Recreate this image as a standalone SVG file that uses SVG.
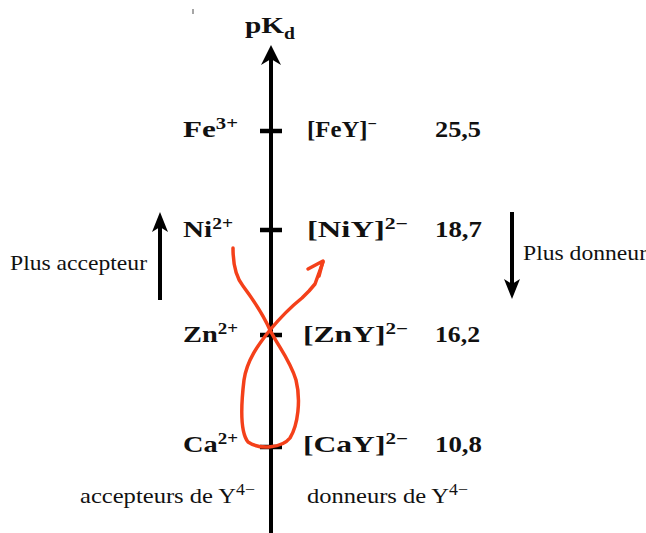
<svg xmlns="http://www.w3.org/2000/svg" width="646" height="533" viewBox="0 0 646 533">
  <style>
    .b { font-family: "Liberation Serif", "Times New Roman", serif; font-weight: bold; font-size: 24px; fill: #111; }
    .r { font-family: "Liberation Serif", "Times New Roman", serif; font-size: 22px; fill: #111; }
    .sup { font-size: 16px; }
    .tick { stroke: #000; stroke-width: 4.5; }
    .ax { stroke: #000; stroke-width: 4; fill: none; }
    .red { fill: none; stroke: #f4401a; stroke-width: 3.5; stroke-linecap: round; stroke-linejoin: round; }
  </style>
  <rect width="646" height="533" fill="#ffffff"/>
  <line x1="193" y1="9" x2="193" y2="14" stroke="#888" stroke-width="1.5"/>

  <g id="axis">
    <line class="ax" x1="271" y1="533" x2="271" y2="56"/>
    <polygon points="271,45 281,65 271,59 261,65" fill="#000"/>
    <text class="b" x="245" y="33" font-size="22" textLength="50" lengthAdjust="spacingAndGlyphs">pK<tspan class="sup" dy="6">d</tspan></text>
  </g>

  <g id="ticks">
    <line class="tick" x1="260" y1="131" x2="282" y2="131"/>
    <line class="tick" x1="260" y1="230" x2="282" y2="230"/>
    <line class="tick" x1="260" y1="335" x2="282" y2="335"/>
    <line class="tick" x1="260" y1="447" x2="282" y2="447"/>
  </g>

  <g id="row-fe">
    <text class="b" x="183" y="137" textLength="55" lengthAdjust="spacingAndGlyphs">Fe<tspan class="sup" dy="-8">3+</tspan></text>
    <text class="b" x="307" y="137" textLength="70" lengthAdjust="spacingAndGlyphs">[FeY]<tspan class="sup" dy="-8">−</tspan></text>
    <text class="b" x="435" y="137" textLength="46" lengthAdjust="spacingAndGlyphs">25,5</text>
  </g>
  <g id="row-ni">
    <text class="b" x="183" y="237" textLength="50" lengthAdjust="spacingAndGlyphs">Ni<tspan class="sup" dy="-8">2+</tspan></text>
    <text class="b" x="307" y="237" textLength="101" lengthAdjust="spacingAndGlyphs">[NiY]<tspan class="sup" dy="-8">2−</tspan></text>
    <text class="b" x="435" y="237" textLength="47" lengthAdjust="spacingAndGlyphs">18,7</text>
  </g>
  <g id="row-zn">
    <text class="b" x="183" y="342" textLength="55" lengthAdjust="spacingAndGlyphs">Zn<tspan class="sup" dy="-8">2+</tspan></text>
    <text class="b" x="303" y="342" textLength="105" lengthAdjust="spacingAndGlyphs">[ZnY]<tspan class="sup" dy="-8">2−</tspan></text>
    <text class="b" x="435" y="342" textLength="45" lengthAdjust="spacingAndGlyphs">16,2</text>
  </g>
  <g id="row-ca">
    <text class="b" x="183" y="452" textLength="55" lengthAdjust="spacingAndGlyphs">Ca<tspan class="sup" dy="-8">2+</tspan></text>
    <text class="b" x="303" y="452" textLength="105" lengthAdjust="spacingAndGlyphs">[CaY]<tspan class="sup" dy="-8">2−</tspan></text>
    <text class="b" x="435" y="452" textLength="47" lengthAdjust="spacingAndGlyphs">10,8</text>
  </g>

  <g id="plus-accepteur">
    <line class="ax" x1="160" y1="300" x2="160" y2="225"/>
    <polygon points="160,212 168,232 160,227 152,232" fill="#000"/>
    <text class="r" x="10" y="270" font-size="21" textLength="137" lengthAdjust="spacingAndGlyphs">Plus accepteur</text>
  </g>

  <g id="plus-donneur">
    <line class="ax" x1="512" y1="212" x2="512" y2="287"/>
    <polygon points="512,299 520,279 512,284 504,279" fill="#000"/>
    <text class="r" x="523" y="260" font-size="21" textLength="124" lengthAdjust="spacingAndGlyphs">Plus donneur</text>
  </g>

  <g id="bottom-labels">
    <text class="r" x="80" y="503" textLength="175" lengthAdjust="spacingAndGlyphs">accepteurs de Y<tspan class="sup" dy="-8">4−</tspan></text>
    <text class="r" x="307" y="503" textLength="161" lengthAdjust="spacingAndGlyphs">donneurs de Y<tspan class="sup" dy="-8">4−</tspan></text>
  </g>

  <g id="connectors">
    <path class="red" d="M233,248 C233,262 235,276 243,286 C252,298 262,312 270,330 C278,346 290,360 296,380 C301,400 298,425 290,438 C282,448 260,450 248,442 C240,432 241,405 244,380 C247,360 258,345 270,330 C280,318 292,306 302,298 L309,291 L315,284 L319,273 L323,262"/>
    <path class="red" d="M308,269 L323,261 L319,276"/>
  </g>
</svg>
